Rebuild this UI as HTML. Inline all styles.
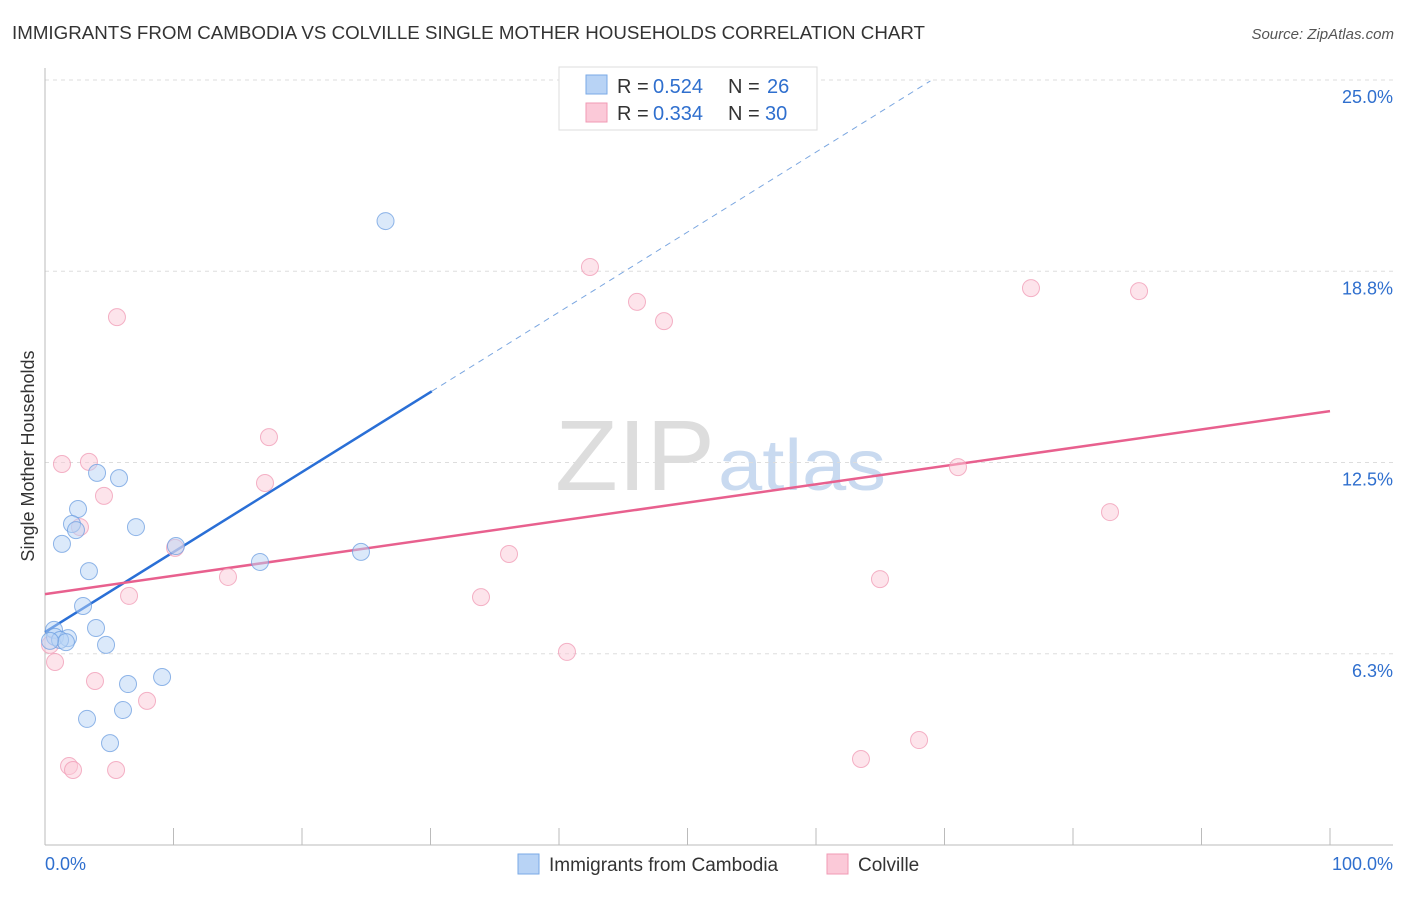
<!DOCTYPE html>
<html><head><meta charset="utf-8"><style>
body{margin:0;background:#fff;font-family:"Liberation Sans",sans-serif;}
svg text{font-family:"Liberation Sans",sans-serif;}
</style></head><body>
<svg id="c" width="1406" height="892" xmlns="http://www.w3.org/2000/svg">
<text x="12" y="39" font-size="18" fill="#333" textLength="913" lengthAdjust="spacingAndGlyphs">IMMIGRANTS FROM CAMBODIA VS COLVILLE SINGLE MOTHER HOUSEHOLDS CORRELATION CHART</text>
<text x="1394" y="39" font-size="15" fill="#555" text-anchor="end" font-style="italic">Source: ZipAtlas.com</text>
<text x="34" y="456" font-size="18" fill="#333" text-anchor="middle" transform="rotate(-90 34 456)">Single Mother Households</text>
<text x="555" y="490" font-size="100" fill="#ddd" font-family="Liberation Serif" textLength="160" lengthAdjust="spacingAndGlyphs">ZIP</text>
<text x="718" y="490" font-size="72" fill="#c9daf0" textLength="168" lengthAdjust="spacingAndGlyphs">atlas</text>
<g id="grid"></g><g id="axes"></g><g id="lines"></g><g id="pts"></g>
<g>
<rect x="559" y="67" width="258" height="63" fill="#fff" stroke="#ddd"/>
<rect x="586" y="75" width="21" height="19" fill="#b8d3f5" stroke="#7aaae6"/>
<rect x="586" y="103" width="21" height="19" fill="#fbc9d8" stroke="#f09ab4"/>
<text x="617" y="93" font-size="20" fill="#333">R = </text><text x="653" y="93" font-size="20" fill="#2f6fce">0.524</text>
<text x="728" y="93" font-size="20" fill="#333">N = </text><text x="767" y="93" font-size="20" fill="#2f6fce">26</text>
<text x="617" y="120" font-size="20" fill="#333">R = </text><text x="653" y="120" font-size="20" fill="#2f6fce">0.334</text>
<text x="728" y="120" font-size="20" fill="#333">N = </text><text x="765" y="120" font-size="20" fill="#2f6fce">30</text>
</g>
<g>
<rect x="518" y="854" width="21" height="20" fill="#b8d3f5" stroke="#7aaae6"/>
<text x="549" y="871" font-size="19" fill="#333">Immigrants from Cambodia</text>
<rect x="827" y="854" width="21" height="20" fill="#fbc9d8" stroke="#f09ab4"/>
<text x="858" y="871" font-size="19" fill="#333">Colville</text>
</g>
</svg>
<script>
const yTicks=[6.25,12.5,18.75,25];
const yTickLabels=["6.3%","12.5%","18.8%","25.0%"];
const xTickLabels=["0.0%","100.0%"];
const blueX=[26.5,4.05,5.76,2.57,7.08,2.10,2.41,1.32,10.19,24.59,16.73,3.42,2.96,3.97,0.70,0.78,1.79,1.17,1.63,4.75,0.39,9.11,6.46,6.07,3.27,5.06];
const blueY=[20.39,12.16,11.99,10.98,10.39,10.49,10.29,9.84,9.77,9.58,9.25,8.95,7.81,7.09,7.03,6.80,6.76,6.70,6.63,6.54,6.67,5.49,5.26,4.41,4.12,3.33];
const pinkX=[42.41,5.60,46.07,48.17,76.73,85.14,17.43,1.32,3.42,4.59,17.12,71.05,2.72,10.12,36.11,82.88,14.24,6.54,33.93,64.98,40.62,0.78,3.89,7.94,68.02,63.50,1.87,2.18,5.53,0.39];
const pinkY=[18.89,17.25,17.75,17.12,18.20,18.10,13.33,12.45,12.52,11.41,11.83,12.35,10.39,9.71,9.51,10.88,8.76,8.14,8.10,8.69,6.31,5.98,5.36,4.71,3.43,2.81,2.58,2.45,2.45,6.54];
const blueTrend=[6.96,0.2614];
const pinkTrend=[8.20,0.0598];
const NS="http://www.w3.org/2000/svg";
const X=v=>45+v*12.85, Y=v=>845-v*30.6;
function mk(t,a,p){const e=document.createElementNS(NS,t);for(const k in a)e.setAttribute(k,a[k]);document.getElementById(p).appendChild(e);return e;}
yTicks.forEach((t,i)=>{
 const g=mk('line',{x1:45,x2:1393,y1:Y(t),y2:Y(t),stroke:'#ddd','stroke-dasharray':'4,4'},'grid');
 
 
 const l=mk('text',{x:1393,y:Y(t)+23,'font-size':18,fill:'#2f6fce','text-anchor':'end'},'axes');l.textContent=yTickLabels[i];
 
 
});
const ax=mk('line',{x1:45,x2:1393,y1:845,y2:845,stroke:'#bbb'},'axes');


const ay=mk('line',{x1:45,x2:45,y1:68,y2:845,stroke:'#bbb'},'axes');


for(let i=0;i<=10;i++){const t=mk('line',{x1:X(i*10),x2:X(i*10),y1:828,y2:845,stroke:'#bbb'},'axes');
 
 }
[[0,'start',45],[100,'end',1393]].forEach((d,i)=>{const t=mk('text',{x:d[2],y:870,'font-size':18,fill:'#2f6fce','text-anchor':d[1]},'axes');t.textContent=xTickLabels[i];
 
 });
function pts(xs,ys,f,s,n){xs.forEach((x,i)=>{const c=mk('circle',{cx:X(x),cy:Y(ys[i]),r:8.5,fill:f,'fill-opacity':0.5,stroke:s,'stroke-opacity':0.75},'pts');
 
 });}
pts(pinkX,pinkY,'#fbc9d8','#f09ab4','colville-point');
pts(blueX,blueY,'#b8d3f5','#6c9ee0','cambodia-point');
const b1=mk('line',{x1:X(0),y1:Y(blueTrend[0]),x2:X(30.1),y2:Y(blueTrend[0]+blueTrend[1]*30.1),stroke:'#2a6fd6','stroke-width':2.5},'lines');


const b2=mk('line',{x1:X(30.1),y1:Y(blueTrend[0]+blueTrend[1]*30.1),x2:X(68.9),y2:Y(blueTrend[0]+blueTrend[1]*68.9),stroke:'#7aa6e0','stroke-width':1,'stroke-dasharray':'6,5'},'lines');


const p1=mk('line',{x1:X(0),y1:Y(pinkTrend[0]),x2:X(100),y2:Y(pinkTrend[0]+pinkTrend[1]*100),stroke:'#e8608e','stroke-width':2.5},'lines');


</script>
</body></html>
